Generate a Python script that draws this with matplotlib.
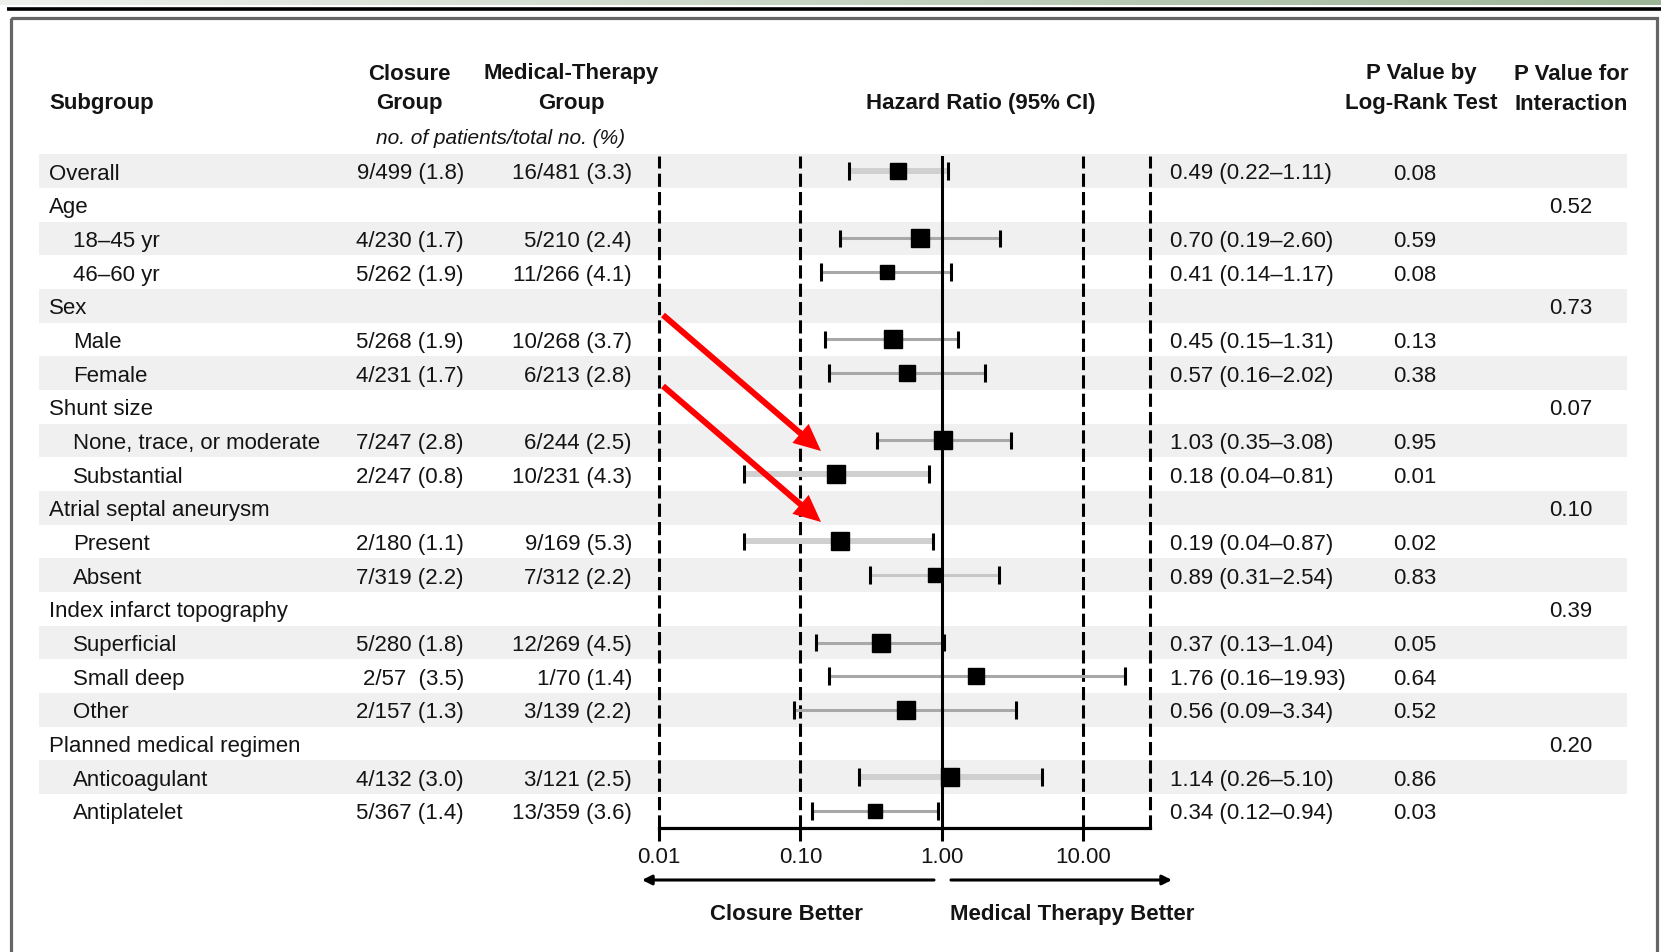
import matplotlib
matplotlib.use('Agg')
import matplotlib.pyplot as plt
import numpy as np
from matplotlib.patches import Rectangle, FancyArrow
from matplotlib.colors import LinearSegmentedColormap
from matplotlib.ticker import NullLocator

plt.rcParams['font.family'] = ['Liberation Sans', 'DejaVu Sans']

# subgroup table
subgroups = ["Overall", "Age", "18\u201345 yr", "46\u201360 yr", "Sex", "Male", "Female",
             "Shunt size", "None, trace, or moderate", "Substantial",
             "Atrial septal aneurysm", "Present", "Absent",
             "Index infarct topography", "Superficial", "Small deep", "Other",
             "Planned medical regimen", "Anticoagulant", "Antiplatelet"]
indented = [False, False, True, True, False, True, True, False, True, True,
            False, True, True, False, True, True, True, False, True, True]
closure = ["9/499 (1.8)", "", "4/230 (1.7)", "5/262 (1.9)", "", "5/268 (1.9)", "4/231 (1.7)",
           "", "7/247 (2.8)", "2/247 (0.8)", "", "2/180 (1.1)", "7/319 (2.2)",
           "", "5/280 (1.8)", "2/57  (3.5)", "2/157 (1.3)", "", "4/132 (3.0)", "5/367 (1.4)"]
medical = ["16/481 (3.3)", "", "5/210 (2.4)", "11/266 (4.1)", "", "10/268 (3.7)", "6/213 (2.8)",
           "", "6/244 (2.5)", "10/231 (4.3)", "", "9/169 (5.3)", "7/312 (2.2)",
           "", "12/269 (4.5)", "1/70 (1.4)", "3/139 (2.2)", "", "3/121 (2.5)", "13/359 (3.6)"]
nan = np.nan
hr = [0.49, nan, 0.70, 0.41, nan, 0.45, 0.57, nan, 1.03, 0.18, nan, 0.19, 0.89,
      nan, 0.37, 1.76, 0.56, nan, 1.14, 0.34]
ci_lo = [0.22, nan, 0.19, 0.14, nan, 0.15, 0.16, nan, 0.35, 0.04, nan, 0.04, 0.31,
         nan, 0.13, 0.16, 0.09, nan, 0.26, 0.12]
ci_hi = [1.11, nan, 2.60, 1.17, nan, 1.31, 2.02, nan, 3.08, 0.81, nan, 0.87, 2.54,
         nan, 1.04, 19.93, 3.34, nan, 5.10, 0.94]
p_logrank = ["0.08", "", "0.59", "0.08", "", "0.13", "0.38", "", "0.95", "0.01", "",
             "0.02", "0.83", "", "0.05", "0.64", "0.52", "", "0.86", "0.03"]
p_interaction = ["", "0.52", "", "", "0.73", "", "", "0.07", "", "", "0.10", "",
                 "", "0.39", "", "", "", "0.20", "", ""]
x_ticks = [0.01, 0.1, 1, 10]
x_ticklabels = ["0.01", "0.10", "1.00", "10.00"]

# box sizes (pt) and CI line look per row
box = [11.5, 0, 12.5, 10.5, 0, 12.5, 12, 0, 12.5, 13, 0, 13, 10.5, 0, 12.5, 12, 12.5, 0, 13, 10.5]
ci_style = {"thick": ("#d0d0d0", 4.3), "thin": ("#a8a8a8", 2.2), "pale": ("#c8c8c8", 2.2)}
ci_kind = ["thick", "", "thin", "thin", "", "thin", "thin", "", "thin", "thick", "",
           "thick", "pale", "", "thin", "thin", "thin", "", "thick", "thin"]

W, H = 1661, 953
ROW0, STEP = 172, 33.68
TXT = "#141414"
FS = 16


def row_y(i):
    return ROW0 + i * STEP


fig = plt.figure(figsize=(W / 100, H / 100), dpi=100)

# background layer in pixel units
bg = fig.add_axes([0, 0, 1, 1], zorder=0)
bg.axis('off')
strip = LinearSegmentedColormap.from_list('strip', ['#eef0ec', '#9db597'])
bg.imshow(np.linspace(0, 1, 256)[None, :], extent=(0, W, 5.5, 0), cmap=strip, aspect='auto')
for i in range(0, len(subgroups), 2):
    bg.add_patch(Rectangle((39, row_y(i) - STEP / 2), 1627 - 39, STEP,
                           fc='#f0f0f0', ec='none'))

# table text
for i, name in enumerate(subgroups):
    y = row_y(i) + 2
    bg.text(73 if indented[i] else 49, y, name, fontsize=FS, color=TXT, va='center')
    bg.text(464, y, closure[i], fontsize=FS, color=TXT, va='center', ha='right')
    bg.text(632, y, medical[i], fontsize=FS, color=TXT, va='center', ha='right')
    if not np.isnan(hr[i]):
        bg.text(1170, y, f"{hr[i]:.2f} ({ci_lo[i]:.2f}\u2013{ci_hi[i]:.2f})",
                fontsize=FS, color=TXT, va='center')
    bg.text(1393, y, p_logrank[i], fontsize=FS, color=TXT, va='center')
    bg.text(1549, y, p_interaction[i], fontsize=FS, color=TXT, va='center')

hdr = dict(fontsize=FS, color=TXT, fontweight='bold', va='center')
bg.text(49, 104, "Subgroup", **hdr)
bg.text(409, 74, "Closure", ha='center', **hdr)
bg.text(409, 104, "Group", ha='center', **hdr)
bg.text(571, 74, "Medical-Therapy", ha='center', **hdr)
bg.text(571, 104, "Group", ha='center', **hdr)
bg.text(501, 139, "no. of patients/total no. (%)", fontsize=FS - 1, color=TXT,
        style='italic', ha='center', va='center')
bg.text(981, 104, "Hazard Ratio (95% CI)", ha='center', **hdr)
bg.text(1421, 74, "P Value by", ha='center', **hdr)
bg.text(1421, 104, "Log-Rank Test", ha='center', **hdr)
bg.text(1571, 74, "P Value for", ha='center', **hdr)
bg.text(1571, 104, "Interaction", ha='center', **hdr)
bg.text(786, 915, "Closure Better", ha='center', **hdr)
bg.text(1072, 915, "Medical Therapy Better", ha='center', **hdr)
bg.set_xlim(0, W)
bg.set_ylim(H, 0)

# forest plot
fa = fig.add_axes([659 / W, 1 - 829 / H, (1150 - 659) / W, (829 - 157) / H], zorder=1)
fa.patch.set_visible(False)
fa.set_xscale('log')
xmax = 10 ** ((1150 - 659) / 141.33 - 2)
for s in ('top', 'left', 'right'):
    fa.spines[s].set_visible(False)
fa.spines['bottom'].set_linewidth(2.3)
fa.spines['bottom'].set_color('black')
for xv in [0.01, 0.1, 10, xmax]:
    fa.axvline(xv, color='black', lw=2.2, ls=(0, (4.3, 1.7)), clip_on=False, zorder=1)
fa.axvline(1, color='black', lw=2.2, zorder=3)

for i in range(len(subgroups)):
    if np.isnan(hr[i]):
        continue
    col, lw = ci_style[ci_kind[i]]
    fa.hlines(i, ci_lo[i], ci_hi[i], color=col, lw=lw, zorder=2)
    fa.vlines([ci_lo[i], ci_hi[i]], i - 0.26, i + 0.26, color='black', lw=2.2, zorder=4)
    fa.plot(hr[i], i, marker='s', ms=box[i], color='black', ls='none', zorder=5)

fa.set_xlim(0.01, xmax)
fa.set_ylim((829 - ROW0) / STEP, (157 - ROW0) / STEP)
fa.set_yticks([])
fa.set_xticks(x_ticks)
fa.set_xticklabels(x_ticklabels)
fa.xaxis.set_minor_locator(NullLocator())
fa.tick_params(axis='x', length=9, width=2.2, pad=4, labelsize=FS, labelcolor=TXT)

# overlay: frame, rule, arrows
top = fig.add_axes([0, 0, 1, 1], zorder=3)
top.axis('off')
top.plot([7, W], [9.5, 9.5], color='black', lw=2.6, solid_capstyle='butt')
top.add_patch(Rectangle((10.5, 18.5), 1646, 1000, fill=False, ec='#666666', lw=2.3,
                        clip_on=False))
for tail, tip in [((663, 316), (821, 452)), ((663, 387), (821, 523))]:
    top.add_patch(FancyArrow(tail[0], tail[1], tip[0] - tail[0], tip[1] - tail[1],
                             width=6, head_width=25, head_length=27,
                             length_includes_head=True, color='#ff0000', lw=0))
arrow = dict(arrowstyle='-|>', color='black', lw=2.2, mutation_scale=14,
             shrinkA=0, shrinkB=0)
top.annotate('', xy=(642, 881), xytext=(934, 881), arrowprops=arrow)
top.annotate('', xy=(1172, 881), xytext=(951, 881), arrowprops=arrow)
top.set_xlim(0, W)
top.set_ylim(H, 0)

fig.savefig('out.png', dpi=100)
